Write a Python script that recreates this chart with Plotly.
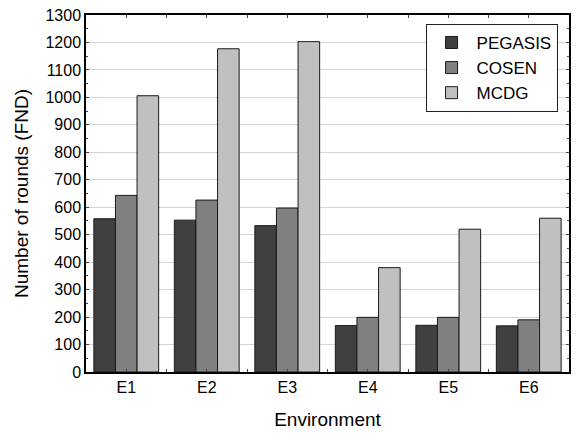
import plotly.graph_objects as go

categories = ["E1", "E2", "E3", "E4", "E5", "E6"]
pegasis = [558, 553, 533, 169, 170, 168]
cosen = [643, 626, 597, 199, 199, 190]
mcdg = [1006, 1177, 1203, 380, 520, 560]

series = [("PEGASIS", pegasis, "#404040"), ("COSEN", cosen, "#808080"), ("MCDG", mcdg, "#c0c0c0")]
xpos = list(range(len(categories)))

fig = go.Figure()
for name, vals, col in series:
    fig.add_trace(go.Bar(x=xpos, y=vals, name=name, marker=dict(color=col, line=dict(color="#1a1a1a", width=1))))

font = "Arial, Liberation Sans, sans-serif"
fig.update_layout(
    width=577, height=435,
    margin=dict(l=86, r=6, t=15, b=63),
    paper_bgcolor="white", plot_bgcolor="white",
    barmode="group", bargap=0.195, bargroupgap=0,
    font=dict(family=font, size=17, color="black"),
    legend=dict(x=0.703, y=0.975, xanchor="left", yanchor="top",
                bordercolor="#222", borderwidth=1, bgcolor="white",
                font=dict(size=17), itemwidth=40, tracegroupgap=0),
    showlegend=True,
)
fig.update_xaxes(
    range=[-0.5, 5.5], tickmode="array", tickvals=xpos, ticktext=categories,
    showline=True, linecolor="black", linewidth=1.5, mirror="ticks",
    ticks="inside", ticklen=3, tickcolor="#444", showgrid=False, zeroline=False,
    minor=dict(tickmode="array", tickvals=[i + 0.5 for i in xpos[:-1]], ticks="inside", ticklen=3, tickcolor="#444"),
    title=dict(text="Environment", font=dict(size=19), standoff=18),
    tickfont=dict(size=16),
)
fig.update_yaxes(
    range=[0, 1300], dtick=100, tick0=0,
    showline=True, linecolor="black", linewidth=1.5, mirror="ticks",
    ticks="inside", ticklen=3, tickcolor="#444",
    showgrid=True, gridcolor="#d4d4d4", gridwidth=1, zeroline=False,
    minor=dict(dtick=50, ticks="inside", ticklen=2, tickcolor="#444", showgrid=False),
    title=dict(text="Number of rounds (FND)", font=dict(size=19), standoff=12),
    tickfont=dict(size=16),
)
fig.write_html("out.html")
